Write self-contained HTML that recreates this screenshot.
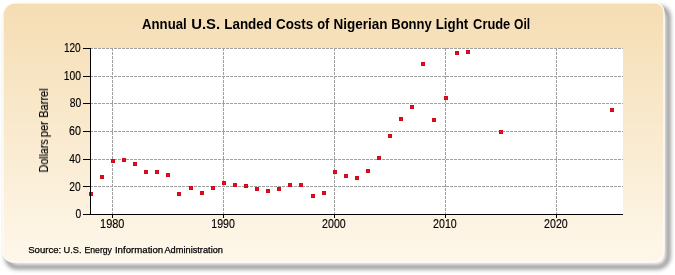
<!DOCTYPE html>
<html><head><meta charset="utf-8"><style>
html,body{margin:0;padding:0;background:#fff;width:675px;height:275px;overflow:hidden}
svg{position:absolute;left:0;top:0}
text{will-change:transform}
.t{font-family:"Liberation Sans",sans-serif;font-size:12px;fill:#000;stroke:#000;stroke-width:0.15px}
.n{font-family:"Liberation Sans",sans-serif;font-size:12.4px;fill:#000;stroke:#000;stroke-width:0.15px}
.title{font-family:"Liberation Sans",sans-serif;font-size:14px;font-weight:bold;fill:#000}
.src{font-family:"Liberation Sans",sans-serif;font-size:9.4px;fill:#000;stroke:#000;stroke-width:0.25px}
</style></head><body>
<svg width="675" height="275" viewBox="0 0 675 275">
<defs>
<linearGradient id="bg" x1="0" y1="0" x2="0" y2="1">
<stop offset="0" stop-color="#f5ddb3"/><stop offset="1" stop-color="#fef7ea"/>
</linearGradient>
<filter id="soft" x="-1%" y="-2%" width="102%" height="104%"><feGaussianBlur stdDeviation="0.55"/></filter>
<filter id="sh" x="-5%" y="-10%" width="110%" height="120%"><feGaussianBlur stdDeviation="2.1"/></filter>
</defs>
<path d="M19.2,8 H659.2 A9,9 0 0 1 668.2,17 V256 A11,11 0 0 1 657.2,267 H17.2 A10,10 0 0 1 7.2,257 V20 A12,12 0 0 1 19.2,8 Z" fill="none" stroke="#5a5a5a" stroke-width="4.5" opacity="0.68" filter="url(#sh)"/>
<path d="M15,3 H655 A9,9 0 0 1 664,12 V251 A11,11 0 0 1 653,262 H13 A10,10 0 0 1 3,252 V15 A12,12 0 0 1 15,3 Z" fill="url(#bg)" stroke="rgba(255,253,245,0.9)" stroke-width="1.4" filter="url(#soft)"/>
<!--TITLE--><text x="142.04" y="29" class="title" textLength="44.66" lengthAdjust="spacingAndGlyphs">Annual</text><text x="191.16" y="29" class="title" textLength="28.96" lengthAdjust="spacingAndGlyphs">U.S.</text><text x="224.24" y="29" class="title" textLength="47.76" lengthAdjust="spacingAndGlyphs">Landed</text><text x="276.00" y="29" class="title" textLength="37.24" lengthAdjust="spacingAndGlyphs">Costs</text><text x="317.16" y="29" class="title" textLength="12.16" lengthAdjust="spacingAndGlyphs">of</text><text x="333.62" y="29" class="title" textLength="54.00" lengthAdjust="spacingAndGlyphs">Nigerian</text><text x="391.24" y="29" class="title" textLength="40.58" lengthAdjust="spacingAndGlyphs">Bonny</text><text x="435.74" y="29" class="title" textLength="32.50" lengthAdjust="spacingAndGlyphs">Light</text><text x="473.08" y="29" class="title" textLength="37.20" lengthAdjust="spacingAndGlyphs">Crude</text><text x="514.00" y="29" class="title" textLength="16.08" lengthAdjust="spacingAndGlyphs">Oil</text><!--/TITLE-->
<!--DPB--><text transform="translate(48.0,172.42) rotate(-90)" class="t" textLength="33.00" lengthAdjust="spacingAndGlyphs">Dollars</text><text transform="translate(48.0,137.26) rotate(-90)" class="t" textLength="15.96" lengthAdjust="spacingAndGlyphs">per</text><text transform="translate(48.0,117.72) rotate(-90)" class="t" textLength="29.38" lengthAdjust="spacingAndGlyphs">Barrel</text><!--/DPB-->
<rect x="90" y="48" width="533" height="166" fill="#ffffff"/>
<line x1="90" y1="186.5" x2="623" y2="186.5" stroke="#a0a0a0" stroke-width="1" stroke-dasharray="3,1"/>
<line x1="90" y1="159.5" x2="623" y2="159.5" stroke="#a0a0a0" stroke-width="1" stroke-dasharray="3,1"/>
<line x1="90" y1="131.5" x2="623" y2="131.5" stroke="#a0a0a0" stroke-width="1" stroke-dasharray="3,1"/>
<line x1="90" y1="103.5" x2="623" y2="103.5" stroke="#a0a0a0" stroke-width="1" stroke-dasharray="3,1"/>
<line x1="90" y1="76.5" x2="623" y2="76.5" stroke="#a0a0a0" stroke-width="1" stroke-dasharray="3,1"/>
<line x1="90" y1="48.5" x2="623" y2="48.5" stroke="#a0a0a0" stroke-width="1" stroke-dasharray="3,1"/>
<line x1="112.5" y1="48" x2="112.5" y2="214" stroke="#a0a0a0" stroke-width="1" stroke-dasharray="3,1"/>
<line x1="223.5" y1="48" x2="223.5" y2="214" stroke="#a0a0a0" stroke-width="1" stroke-dasharray="3,1"/>
<line x1="334.5" y1="48" x2="334.5" y2="214" stroke="#a0a0a0" stroke-width="1" stroke-dasharray="3,1"/>
<line x1="445.5" y1="48" x2="445.5" y2="214" stroke="#a0a0a0" stroke-width="1" stroke-dasharray="3,1"/>
<line x1="556.5" y1="48" x2="556.5" y2="214" stroke="#a0a0a0" stroke-width="1" stroke-dasharray="3,1"/>
<rect x="89" y="192" width="4" height="4" fill="#cc0c1e"/><rect x="90" y="193" width="2" height="2" fill="#ee0820"/>
<rect x="100" y="175" width="4" height="4" fill="#cc0c1e"/><rect x="101" y="176" width="2" height="2" fill="#ee0820"/>
<rect x="111" y="159" width="4" height="4" fill="#cc0c1e"/><rect x="112" y="160" width="2" height="2" fill="#ee0820"/>
<rect x="122" y="158" width="4" height="4" fill="#cc0c1e"/><rect x="123" y="159" width="2" height="2" fill="#ee0820"/>
<rect x="133" y="162" width="4" height="4" fill="#cc0c1e"/><rect x="134" y="163" width="2" height="2" fill="#ee0820"/>
<rect x="144" y="170" width="4" height="4" fill="#cc0c1e"/><rect x="145" y="171" width="2" height="2" fill="#ee0820"/>
<rect x="155" y="170" width="4" height="4" fill="#cc0c1e"/><rect x="156" y="171" width="2" height="2" fill="#ee0820"/>
<rect x="166" y="173" width="4" height="4" fill="#cc0c1e"/><rect x="167" y="174" width="2" height="2" fill="#ee0820"/>
<rect x="177" y="192" width="4" height="4" fill="#cc0c1e"/><rect x="178" y="193" width="2" height="2" fill="#ee0820"/>
<rect x="189" y="186" width="4" height="4" fill="#cc0c1e"/><rect x="190" y="187" width="2" height="2" fill="#ee0820"/>
<rect x="200" y="191" width="4" height="4" fill="#cc0c1e"/><rect x="201" y="192" width="2" height="2" fill="#ee0820"/>
<rect x="211" y="186" width="4" height="4" fill="#cc0c1e"/><rect x="212" y="187" width="2" height="2" fill="#ee0820"/>
<rect x="222" y="181" width="4" height="4" fill="#cc0c1e"/><rect x="223" y="182" width="2" height="2" fill="#ee0820"/>
<rect x="233" y="183" width="4" height="4" fill="#cc0c1e"/><rect x="234" y="184" width="2" height="2" fill="#ee0820"/>
<rect x="244" y="184" width="4" height="4" fill="#cc0c1e"/><rect x="245" y="185" width="2" height="2" fill="#ee0820"/>
<rect x="255" y="187" width="4" height="4" fill="#cc0c1e"/><rect x="256" y="188" width="2" height="2" fill="#ee0820"/>
<rect x="266" y="189" width="4" height="4" fill="#cc0c1e"/><rect x="267" y="190" width="2" height="2" fill="#ee0820"/>
<rect x="277" y="187" width="4" height="4" fill="#cc0c1e"/><rect x="278" y="188" width="2" height="2" fill="#ee0820"/>
<rect x="288" y="183" width="4" height="4" fill="#cc0c1e"/><rect x="289" y="184" width="2" height="2" fill="#ee0820"/>
<rect x="299" y="183" width="4" height="4" fill="#cc0c1e"/><rect x="300" y="184" width="2" height="2" fill="#ee0820"/>
<rect x="311" y="194" width="4" height="4" fill="#cc0c1e"/><rect x="312" y="195" width="2" height="2" fill="#ee0820"/>
<rect x="322" y="191" width="4" height="4" fill="#cc0c1e"/><rect x="323" y="192" width="2" height="2" fill="#ee0820"/>
<rect x="333" y="170" width="4" height="4" fill="#cc0c1e"/><rect x="334" y="171" width="2" height="2" fill="#ee0820"/>
<rect x="344" y="174" width="4" height="4" fill="#cc0c1e"/><rect x="345" y="175" width="2" height="2" fill="#ee0820"/>
<rect x="355" y="176" width="4" height="4" fill="#cc0c1e"/><rect x="356" y="177" width="2" height="2" fill="#ee0820"/>
<rect x="366" y="169" width="4" height="4" fill="#cc0c1e"/><rect x="367" y="170" width="2" height="2" fill="#ee0820"/>
<rect x="377" y="156" width="4" height="4" fill="#cc0c1e"/><rect x="378" y="157" width="2" height="2" fill="#ee0820"/>
<rect x="388" y="134" width="4" height="4" fill="#cc0c1e"/><rect x="389" y="135" width="2" height="2" fill="#ee0820"/>
<rect x="399" y="117" width="4" height="4" fill="#cc0c1e"/><rect x="400" y="118" width="2" height="2" fill="#ee0820"/>
<rect x="410" y="105" width="4" height="4" fill="#cc0c1e"/><rect x="411" y="106" width="2" height="2" fill="#ee0820"/>
<rect x="421" y="62" width="4" height="4" fill="#cc0c1e"/><rect x="422" y="63" width="2" height="2" fill="#ee0820"/>
<rect x="432" y="118" width="4" height="4" fill="#cc0c1e"/><rect x="433" y="119" width="2" height="2" fill="#ee0820"/>
<rect x="444" y="96" width="4" height="4" fill="#cc0c1e"/><rect x="445" y="97" width="2" height="2" fill="#ee0820"/>
<rect x="455" y="51" width="4" height="4" fill="#cc0c1e"/><rect x="456" y="52" width="2" height="2" fill="#ee0820"/>
<rect x="466" y="50" width="4" height="4" fill="#cc0c1e"/><rect x="467" y="51" width="2" height="2" fill="#ee0820"/>
<rect x="499" y="130" width="4" height="4" fill="#cc0c1e"/><rect x="500" y="131" width="2" height="2" fill="#ee0820"/>
<rect x="610" y="108" width="4" height="4" fill="#cc0c1e"/><rect x="611" y="109" width="2" height="2" fill="#ee0820"/>
<line x1="90.5" y1="48" x2="90.5" y2="215" stroke="#000" stroke-width="1"/>
<line x1="90" y1="214.5" x2="623" y2="214.5" stroke="#000" stroke-width="1"/>
<line x1="83" y1="214.5" x2="90" y2="214.5" stroke="#000" stroke-width="1"/>
<text transform="translate(75.55,218.15) scale(0.830,1)" class="n">0</text>
<line x1="83" y1="186.5" x2="90" y2="186.5" stroke="#000" stroke-width="1"/>
<text transform="translate(69.15,190.55) scale(0.833,1)" class="n">20</text>
<line x1="83" y1="159.5" x2="90" y2="159.5" stroke="#000" stroke-width="1"/>
<text transform="translate(69.15,162.60) scale(0.833,1)" class="n">40</text>
<line x1="83" y1="131.5" x2="90" y2="131.5" stroke="#000" stroke-width="1"/>
<text transform="translate(69.10,134.60) scale(0.863,1)" class="n">60</text>
<line x1="83" y1="103.5" x2="90" y2="103.5" stroke="#000" stroke-width="1"/>
<text transform="translate(69.75,107.15) scale(0.833,1)" class="n">80</text>
<line x1="83" y1="76.5" x2="90" y2="76.5" stroke="#000" stroke-width="1"/>
<text transform="translate(63.85,79.55) scale(0.833,1)" class="n">100</text>
<line x1="83" y1="48.5" x2="90" y2="48.5" stroke="#000" stroke-width="1"/>
<text transform="translate(63.90,51.60) scale(0.814,1)" class="n">120</text>
<line x1="112.5" y1="214" x2="112.5" y2="218" stroke="#000" stroke-width="1"/>
<text transform="translate(100.05,227.55) scale(0.884,1)" class="n">1980</text>
<line x1="223.5" y1="214" x2="223.5" y2="218" stroke="#000" stroke-width="1"/>
<text transform="translate(211.25,227.55) scale(0.857,1)" class="n">1990</text>
<line x1="334.5" y1="214" x2="334.5" y2="218" stroke="#000" stroke-width="1"/>
<text transform="translate(322.10,227.55) scale(0.857,1)" class="n">2000</text>
<line x1="445.5" y1="214" x2="445.5" y2="218" stroke="#000" stroke-width="1"/>
<text transform="translate(433.10,227.55) scale(0.857,1)" class="n">2010</text>
<line x1="556.5" y1="214" x2="556.5" y2="218" stroke="#000" stroke-width="1"/>
<text transform="translate(544.10,227.55) scale(0.857,1)" class="n">2020</text>
<!--SRC--><text x="28.18" y="253.3" class="src" textLength="33.08" lengthAdjust="spacingAndGlyphs">Source:</text><text x="63.48" y="253.3" class="src" textLength="17.98" lengthAdjust="spacingAndGlyphs">U.S.</text><text x="84.48" y="253.3" class="src" textLength="27.46" lengthAdjust="spacingAndGlyphs">Energy</text><text x="114.94" y="253.3" class="src" textLength="48.30" lengthAdjust="spacingAndGlyphs">Information</text><text x="164.48" y="253.3" class="src" textLength="58.48" lengthAdjust="spacingAndGlyphs">Administration</text><!--/SRC-->
</svg>
</body></html>
